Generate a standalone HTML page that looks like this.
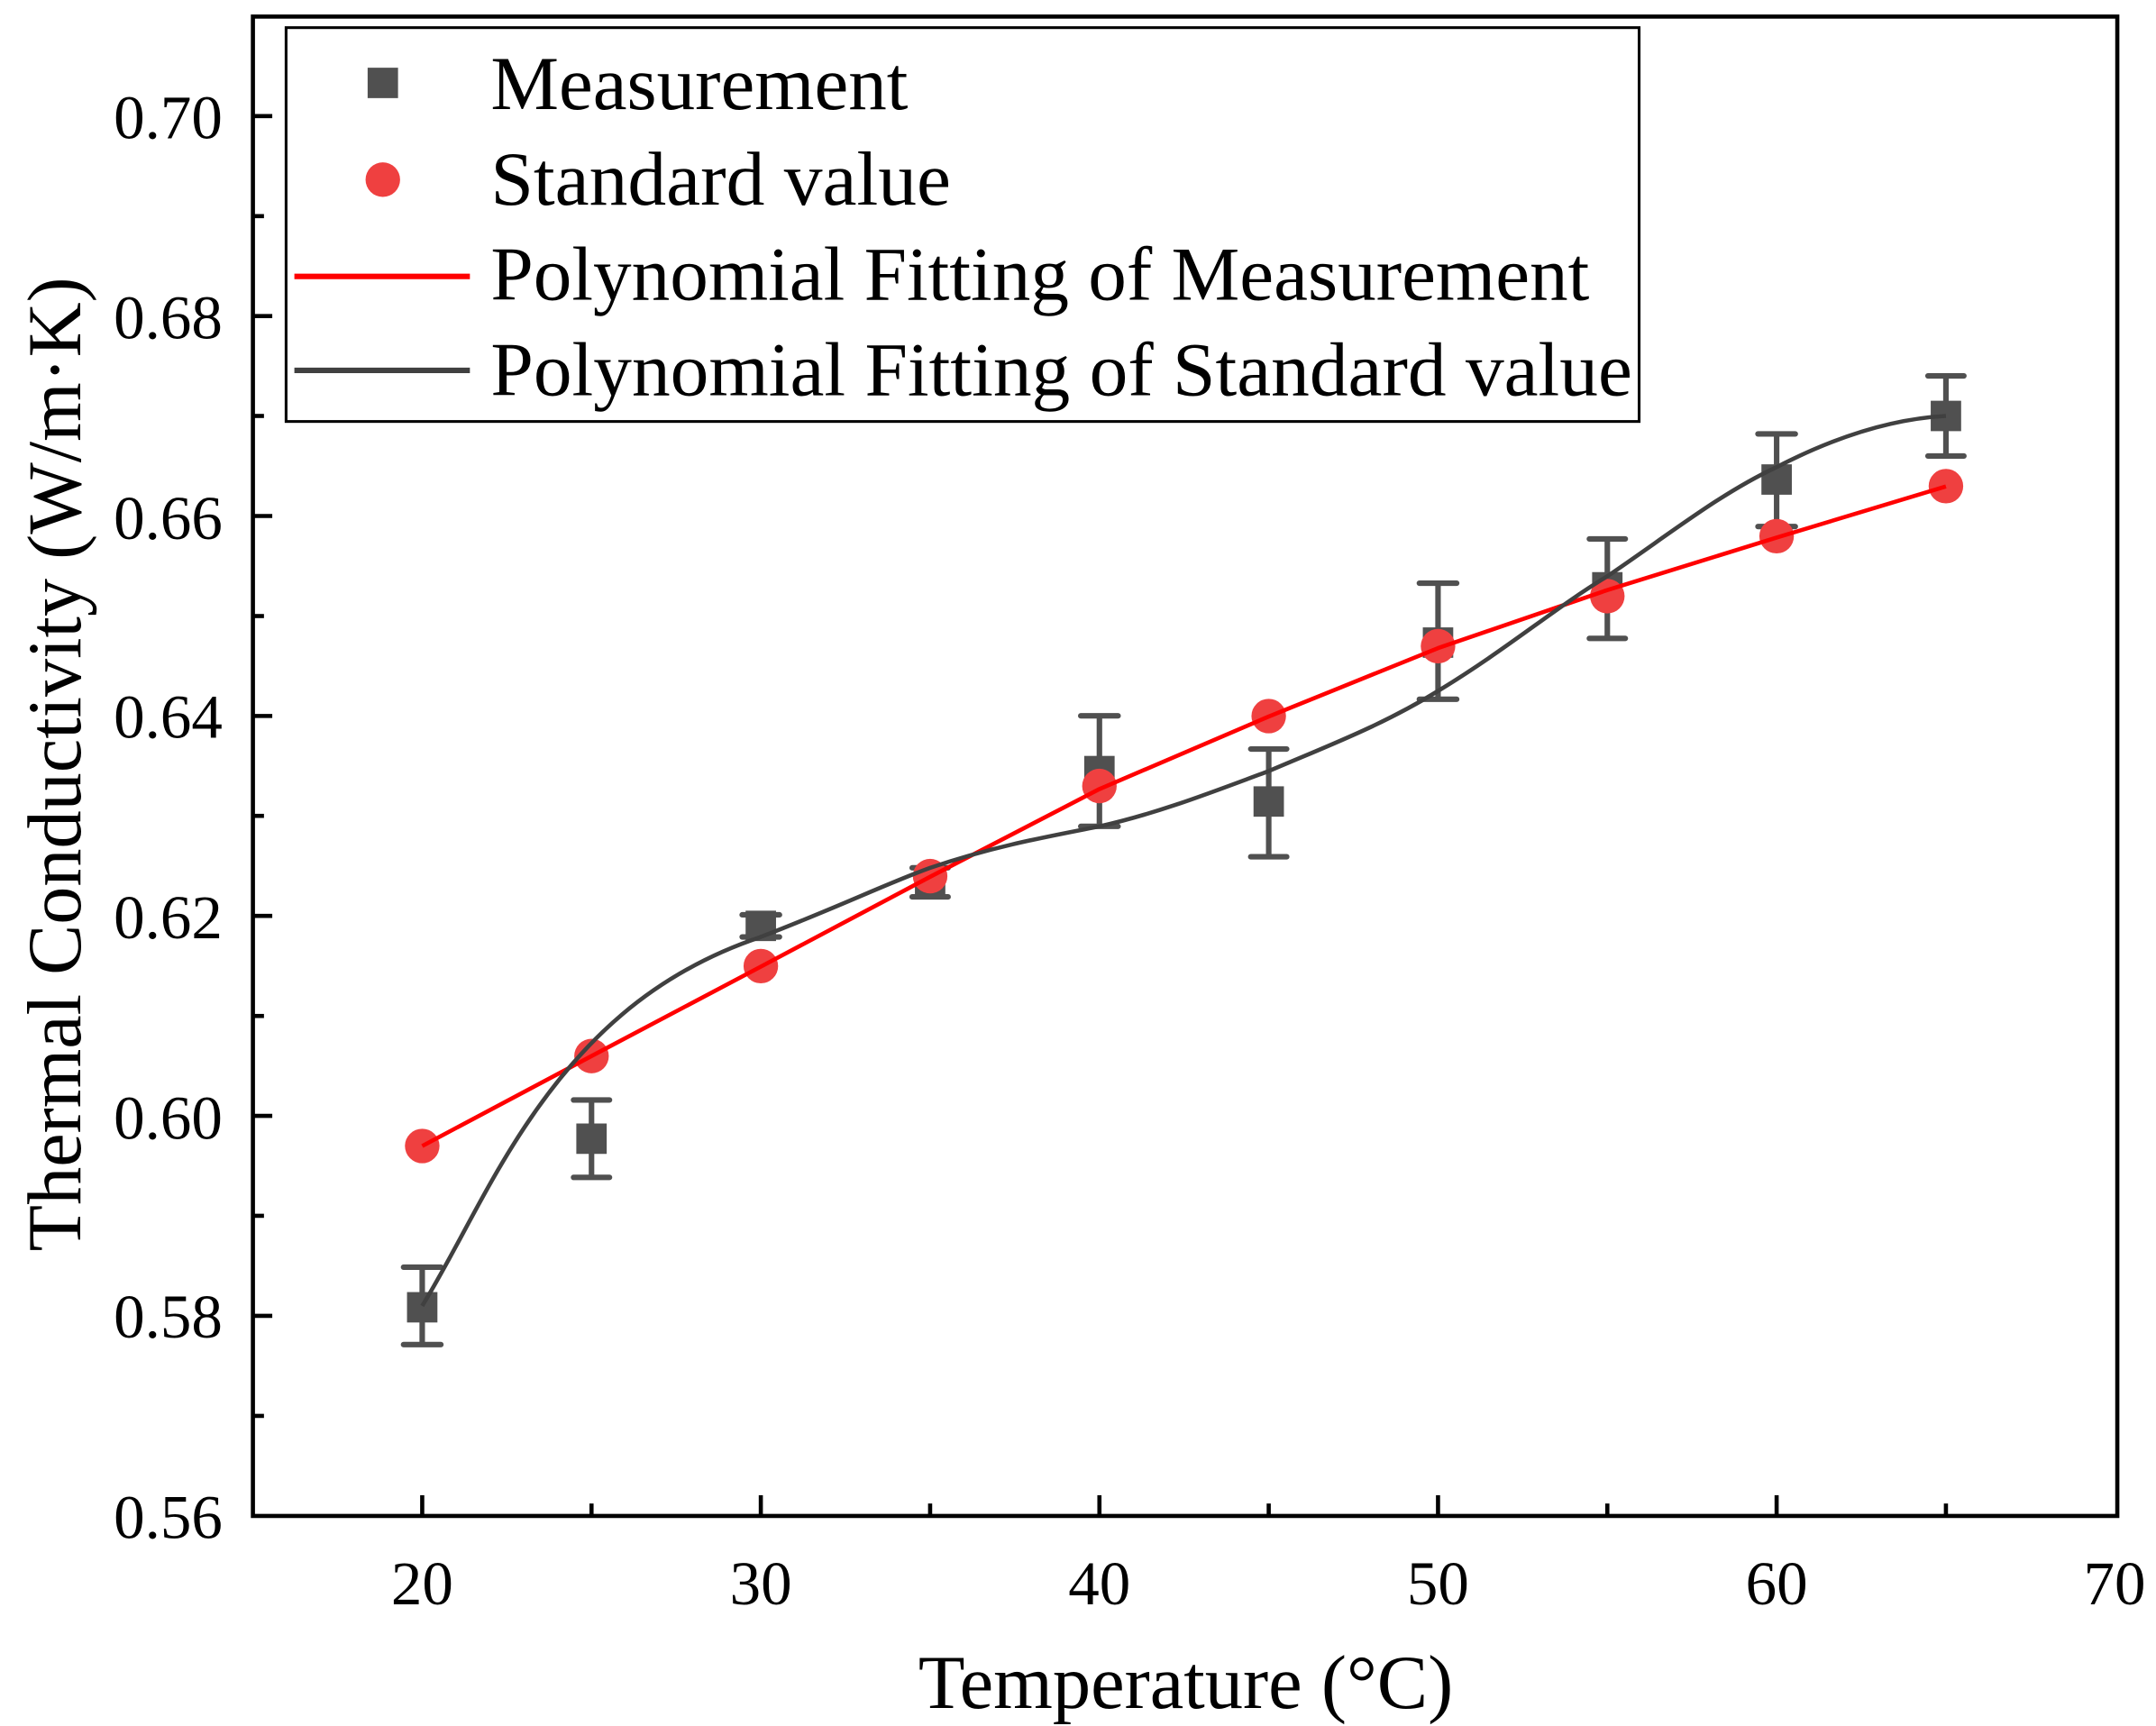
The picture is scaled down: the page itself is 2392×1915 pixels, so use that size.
<!DOCTYPE html>
<html><head><meta charset="utf-8"><style>html,body{margin:0;padding:0;background:#fff}svg{display:block}</style></head>
<body>
<svg width="2392" height="1915" viewBox="0 0 1560 1249" preserveAspectRatio="none" xmlns="http://www.w3.org/2000/svg" font-family="'Liberation Serif', serif">
<rect width="1560" height="1249" fill="#fff"/>
<g stroke="#000" stroke-width="3">
<line x1="305.5" y1="1097" x2="305.5" y2="1082"/><line x1="550.5" y1="1097" x2="550.5" y2="1082"/><line x1="795.5" y1="1097" x2="795.5" y2="1082"/><line x1="1040.5" y1="1097" x2="1040.5" y2="1082"/><line x1="1285.5" y1="1097" x2="1285.5" y2="1082"/>
<line x1="428" y1="1097" x2="428" y2="1088"/><line x1="673" y1="1097" x2="673" y2="1088"/><line x1="918" y1="1097" x2="918" y2="1088"/><line x1="1163" y1="1097" x2="1163" y2="1088"/><line x1="1408" y1="1097" x2="1408" y2="1088"/>
<line x1="183" y1="84" x2="197" y2="84"/><line x1="183" y1="228.7" x2="197" y2="228.7"/><line x1="183" y1="373.4" x2="197" y2="373.4"/><line x1="183" y1="518.1" x2="197" y2="518.1"/><line x1="183" y1="662.8" x2="197" y2="662.8"/><line x1="183" y1="807.5" x2="197" y2="807.5"/><line x1="183" y1="952.2" x2="197" y2="952.2"/>
<line x1="183" y1="156.4" x2="191" y2="156.4"/><line x1="183" y1="301" x2="191" y2="301"/><line x1="183" y1="445.8" x2="191" y2="445.8"/><line x1="183" y1="590.4" x2="191" y2="590.4"/><line x1="183" y1="735.2" x2="191" y2="735.2"/><line x1="183" y1="879.8" x2="191" y2="879.8"/><line x1="183" y1="1024.6" x2="191" y2="1024.6"/>
</g>
<rect x="183" y="12" width="1349" height="1085" fill="none" stroke="#000" stroke-width="3"/>
<g font-size="45" text-anchor="end" fill="#000">
<text x="161" y="100">0.70</text><text x="161" y="245">0.68</text><text x="161" y="390">0.66</text><text x="161" y="534">0.64</text><text x="161" y="679">0.62</text><text x="161" y="824">0.60</text><text x="161" y="968">0.58</text><text x="161" y="1113">0.56</text>
</g>
<g font-size="45" text-anchor="middle" fill="#000">
<text x="305.5" y="1161">20</text><text x="550.5" y="1161">30</text><text x="795.5" y="1161">40</text><text x="1040.5" y="1161">50</text><text x="1285.5" y="1161">60</text><text x="1530" y="1161">70</text>
</g>
<text x="858" y="1236" font-size="55" text-anchor="middle" textLength="387" lengthAdjust="spacingAndGlyphs">Temperature (°C)</text>
<text transform="translate(58,553) rotate(-90)" font-size="55" text-anchor="middle" textLength="705" lengthAdjust="spacingAndGlyphs">Thermal Conductivity (W/m·K)</text>
<g stroke="#505050" stroke-width="4" stroke-linecap="round">
<path d="M305.5,917V973M292,917H319M292,973H319"/>
<path d="M428,796V852M415,796H441M415,852H441"/>
<path d="M550.5,662V678M537,662H564M537,678H564"/>
<path d="M673,628V649M660,628H686M660,649H686"/>
<path d="M795.5,518V598M782,518H809M782,598H809"/>
<path d="M918,542V620M905,542H931M905,620H931"/>
<path d="M1040.5,422V506M1027,422H1054M1027,506H1054"/>
<path d="M1163,390V462M1150,390H1176M1150,462H1176"/>
<path d="M1285.5,314V381M1272,314H1299M1272,381H1299"/>
<path d="M1408,272V330M1395,272H1421M1395,330H1421"/>
</g>
<g fill="#505050">
<rect x="294.5" y="935" width="22" height="22"/><rect x="417" y="813" width="22" height="22"/><rect x="539.5" y="659" width="22" height="22"/><rect x="662" y="627" width="22" height="22"/><rect x="784.5" y="547" width="22" height="22"/><rect x="907" y="569" width="22" height="22"/><rect x="1029.5" y="454" width="22" height="22"/><rect x="1152" y="414" width="22" height="22"/><rect x="1274.5" y="336" width="22" height="22"/><rect x="1397" y="290" width="22" height="22"/>
</g>
<g fill="#ef4040">
<circle cx="305.5" cy="829.3" r="12.5"/><circle cx="428" cy="764.2" r="12.5"/><circle cx="550.5" cy="699.1" r="12.5"/><circle cx="673" cy="634" r="12.5"/><circle cx="795.5" cy="568.8" r="12.5"/><circle cx="918" cy="518.2" r="12.5"/><circle cx="1040.5" cy="467.6" r="12.5"/><circle cx="1163" cy="431.4" r="12.5"/><circle cx="1285.5" cy="388" r="12.5"/><circle cx="1408" cy="351.8" r="12.5"/>
</g>
<polyline fill="none" stroke="#ff0000" stroke-width="3" stroke-linejoin="round" points="305.5,829.3 428,764.2 550.5,699.5 673,634.5 795.5,571 918,518.5 1040.5,469 1163,427 1285.5,389 1408,352"/>
<path fill="none" stroke="#404040" stroke-width="3" d="M305.5,945 C330,905 350,860 380,815 C420,755 470,705 550.5,678 C610,655 640,640 673,628 C720,612 760,605 795.5,598 C840,588 880,572 918,558 C960,540 1000,525 1040.5,500 C1090,470 1125,440 1163,417 C1210,385 1245,357 1285.5,338 C1330,315 1370,303 1408,301"/>
<rect x="207" y="20" width="979" height="285" fill="#fff" stroke="#000" stroke-width="2"/>
<rect x="266" y="49" width="22" height="22" fill="#505050"/>
<circle cx="277" cy="130" r="12.5" fill="#ef4040"/>
<line x1="213" y1="200" x2="340" y2="200" stroke="#ff0000" stroke-width="4"/>
<line x1="213" y1="268" x2="340" y2="268" stroke="#404040" stroke-width="4"/>
<g font-size="55" fill="#000">
<text x="355" y="79" textLength="302" lengthAdjust="spacingAndGlyphs">Measurement</text>
<text x="355" y="148" textLength="333" lengthAdjust="spacingAndGlyphs">Standard value</text>
<text x="355" y="217" textLength="795" lengthAdjust="spacingAndGlyphs">Polynomial Fitting of Measurement</text>
<text x="355" y="286" textLength="826" lengthAdjust="spacingAndGlyphs">Polynomial Fitting of Standard value</text>
</g>
</svg>
</body></html>
